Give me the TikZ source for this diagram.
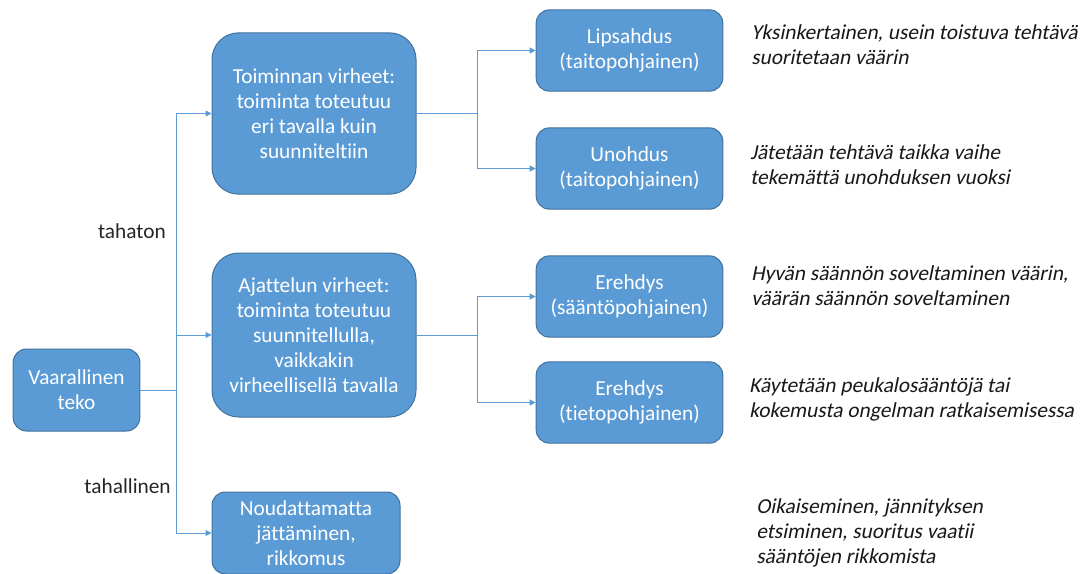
\documentclass[tikz,border=0pt]{standalone}
\usepackage{fontspec}
\setmainfont{Carlito}[Ligatures=NoCommon]
\newfontfamily\descfont{Carlito}[FakeSlant=0.2,Ligatures=NoCommon]
\usepackage{xcolor}
\usetikzlibrary{positioning,arrows.meta}
\definecolor{boxblue}{HTML}{5B9BD5}
\definecolor{boxedge}{HTML}{41719C}

\begin{document}
\begin{tikzpicture}[
  x=0.75pt,y=-0.75pt,
  font=\fontsize{16}{18.75}\selectfont,
  >={Triangle[length=4.5pt,width=4.5pt]},
  rootbox/.style={draw=boxedge,line width=0.75pt,fill=boxblue,text=white,
                  rounded corners=10pt,align=center,inner sep=2pt,
                  minimum width=95pt,minimum height=61.5pt},
  ebox/.style   ={draw=boxedge,line width=0.75pt,fill=boxblue,text=white,
                  rounded corners=20pt,align=center,inner sep=2pt,
                  minimum width=153pt,minimum height=121pt},
  kbox/.style   ={draw=boxedge,line width=0.75pt,fill=boxblue,text=white,
                  rounded corners=10pt,align=center,inner sep=2pt,
                  minimum width=140pt,minimum height=61pt},
  nbox/.style   ={draw=boxedge,line width=0.75pt,fill=boxblue,text=white,
                  rounded corners=10pt,align=center,inner sep=2pt,
                  minimum width=141pt,minimum height=61.5pt},
  desc/.style   ={font=\fontsize{16}{18.75}\selectfont\descfont,text=black!90,
                  align=left,anchor=west,inner sep=0pt},
  flow/.style   ={->,line width=0.75pt,draw=boxblue},
  link/.style   ={line width=0.75pt,draw=boxblue},
  glab/.style   ={text=black!85,anchor=east,inner sep=0pt},
]
\useasboundingbox (0,0) rectangle (1085,574);

% ===================== Root and first-level split =========================
\node[rootbox] (R) at (76.5,390) {Vaarallinen\\teko};

\node[ebox] (T) at (314,113.5)
  {Toiminnan virheet:\\toiminta toteutuu\\eri tavalla kuin\\suunniteltiin};
\node[ebox,minimum height=123pt] (A) at (314,335)
  {Ajattelun virheet:\\toiminta toteutuu\\suunnitellulla,\\vaikkakin\\virheellisellä tavalla};
\node[nbox] (N) at (306,533) {Noudattamatta\\jättäminen,\\rikkomus};

\coordinate (J0) at (176,390);
\draw[link] (R.east) -- (J0);
\draw[flow] (J0) |- (T.west);
\draw[flow] (J0) |- (A.west);
\draw[flow] (J0) |- (N.west);

\node[glab] (Lt) at (166,231) {tahaton};
\node[glab] (Lh) at (171,486) {tahallinen};

% ===================== Second-level split ================================
\node[kbox] (L1) at (629.5,50.5)  {Lipsahdus\\(taitopohjainen)};
\node[kbox] (U1) at (629.5,168.5) {Unohdus\\(taitopohjainen)};
\node[kbox] (E1) at (629.5,296.5) {Erehdys\\(sääntöpohjainen)};
\node[kbox] (E2) at (629.5,402.5) {Erehdys\\(tietopohjainen)};

\coordinate (J1) at (477,113.5);
\draw[link] (T.east) -- (J1);
\draw[flow] (J1) |- (L1.west);
\draw[flow] (J1) |- (U1.west);

\coordinate (J2) at (477,335);
\draw[link] (A.east) -- (J2);
\draw[flow] (J2) |- (E1.west);
\draw[flow] (J2) |- (E2.west);

% ----- Descriptions on the right -----------------------------------------
\node[desc] (dL1) at (751,45)  {Yksinkertainen, usein toistuva tehtävä\\suoritetaan väärin};
\node[desc] (dU1) at (750,165) {Jätetään tehtävä taikka vaihe\\tekemättä unohduksen vuoksi};
\node[desc] (dE1) at (751,285.5) {Hyvän säännön soveltaminen väärin,\\väärän säännön soveltaminen};
\node[desc] (dE2) at (749,399) {Käytetään peukalosääntöjä tai\\kokemusta ongelman ratkaisemisessa};
\node[desc] (dN) at (756,533) {Oikaiseminen, jännityksen\\etsiminen, suoritus vaatii\\sääntöjen rikkomista};

\end{tikzpicture}
\end{document}
